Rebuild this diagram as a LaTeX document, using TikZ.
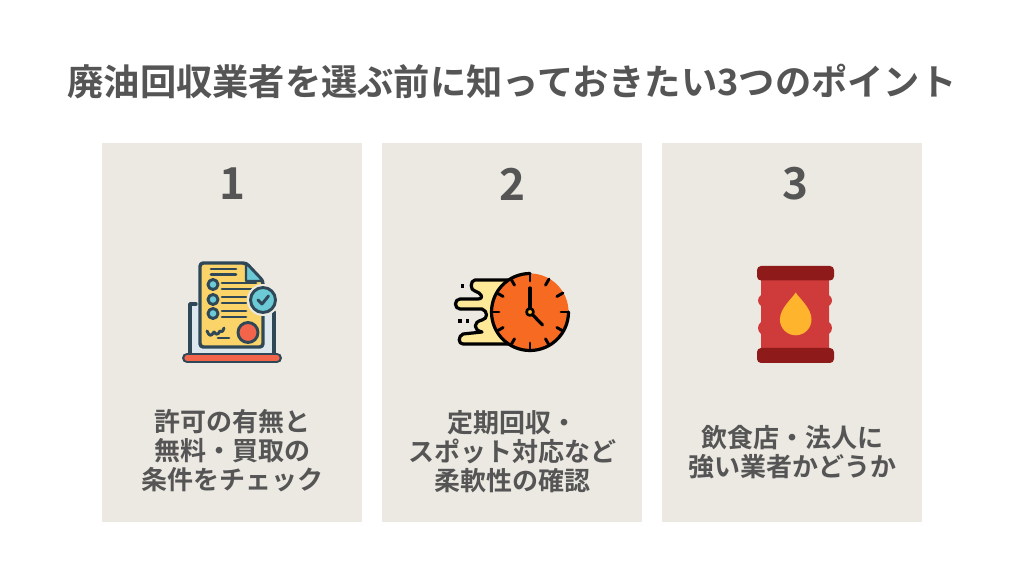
\documentclass[tikz,border=0pt]{standalone}
\usetikzlibrary{calc}
\usepackage{fontspec}
\setmainfont{Noto Sans CJK JP Bold}
\definecolor{ink}{HTML}{555555}
\definecolor{panel}{HTML}{ECE9E2}
\definecolor{line}{HTML}{2F4858}
\definecolor{paper}{HTML}{FBD469}
\definecolor{sky}{HTML}{6CC9D6}
\definecolor{pale}{HTML}{DDE8EE}
\definecolor{coral}{HTML}{F2654A}
\definecolor{orange}{HTML}{F76A21}
\definecolor{cream}{HTML}{FEE998}
\definecolor{barrel}{HTML}{CF3B3B}
\definecolor{dark}{HTML}{8F1A1A}
\definecolor{oil}{HTML}{FFB42D}
\tikzset{
 cardbox/.style={fill=panel,draw=none,minimum width=195pt,minimum height=284.25pt,inner sep=0pt},
 titletext/.style={text=ink,font=\fontsize{27.2pt}{32pt}\selectfont,inner sep=0pt},
 numtext/.style={text=ink,font=\fontsize{33pt}{38pt}\selectfont,inner sep=0pt},
 bodytext/.style={text=ink,font=\fontsize{19.5pt}{21.8pt}\selectfont,align=center,inner sep=0pt},
 ol/.style={draw=line,line width=2.6pt,line cap=round,line join=round},
 bk/.style={draw=black,line width=2.4pt,line cap=round,line join=round}
}
\begin{document}
\begin{tikzpicture}[x=0.75pt,y=-0.75pt]
\useasboundingbox (0,0) rectangle (1024,580);
\fill[white] (0,0) rectangle (1024,580);
\node[titletext] (title) at (512,82) {廃油回収業者を選ぶ前に知っておきたい3つのポイント};
\node[cardbox] (c1) at (232,332.5) {};
\node[cardbox] (c2) at (512,332.5) {};
\node[cardbox] (c3) at (792,332.5) {};
\node[numtext] (n1) at (232,184) {1};
\node[numtext] (n2) at (512,184) {2};
\node[numtext] (n3) at (795,184) {3};
\node[bodytext] (t1) at (232,451) {許可の有無と\\無料・買取の\\条件をチェック};
\node[bodytext] (t2) at (512,452) {定期回収・\\スポット対応など\\柔軟性の確認};
\node[bodytext] (t3) at (792,452) {飲食店・法人に\\強い業者かどうか};
% icon 1
\fill[pale] (190,304) rectangle (274,353);
\draw[ol] (196,304) -- (190,304) -- (190,354);
\draw[ol] (274,312) -- (274,354);
\draw[ol,fill=paper,rounded corners=2.5pt] (200,263) -- (246,263) -- (263,281) -- (263,347) -- (200,347) -- cycle;
\draw[ol,fill=sky,line width=1.8pt] (246,263) -- (246,281) -- (263,281) -- cycle;
\foreach \y in {269,274.5}{\draw[ol,line width=2.2pt] (211,\y) -- (236,\y);}
\foreach \y in {283,289}{\draw[ol,line width=2.2pt] (222,\y) -- (256,\y);}
\foreach \y in {297,303,311,317}{\draw[ol,line width=2.2pt] (222,\y) -- (246,\y);}
\foreach \y in {284.5,299.5,313.5}{\draw[ol,fill=sky,line width=2.2pt] (213,\y) circle (5);}
\draw[ol,line width=2.2pt] (207,331) .. controls (209,336) and (211,337) .. (214,332) .. controls (216,335) and (218,335) .. (220,331) .. controls (222,333) and (224,330) .. (224,328);
\draw[ol,line width=2.2pt] (218,338) -- (229,338);
\draw[ol,fill=coral,line width=2.2pt] (248,332.5) circle (10);
\fill[panel] (263,300) circle (16);
\draw[ol,fill=sky,line width=2.2pt] (263,300) circle (12.5);
\draw[ol,line width=2.2pt] (258,300) -- (262,304) -- (268.5,296);
\draw[draw=line,line width=7.5pt,line cap=round] (187,358) -- (277,358);
\draw[draw=coral,line width=3.8pt,line cap=round] (187,358) -- (277,358);
% icon 2
\path[fill=cream] (508,280) -- (475,280) .. controls (470,280) and (470,291) .. (475,291) -- (479,293) .. controls (483,296) and (482,299) .. (478,299) -- (460,299) .. controls (454,299) and (454,309) .. (460,309) -- (482,309) .. controls (488,311) and (488,319) .. (482,320) .. controls (473,322) and (473,330) .. (482,332) -- (463,334) .. controls (458,336) and (458,344) .. (463,344) -- (508,344) -- cycle;
\draw[bk] (508,280) -- (475,280) .. controls (470,280) and (470,291) .. (475,291) -- (479,293) .. controls (483,296) and (482,299) .. (478,299) -- (460,299) .. controls (454,299) and (454,309) .. (460,309) -- (482,309) .. controls (488,311) and (488,319) .. (482,320) .. controls (473,322) and (473,330) .. (482,332) -- (463,334) .. controls (458,336) and (458,344) .. (463,344) -- (508,344);
\fill[black] (460.5,284) rectangle (464,288);
\fill[black] (458,319) rectangle (461.5,323);
\fill[black] (465.5,319) rectangle (469,323);
\fill[orange] (530,312) circle (38.5);
\draw[bk] (530,273.5) arc[start angle=270,end angle=0,radius=38.5];
\foreach \a in {0,30,...,330}{\draw[bk,line width=2.2pt] ($(530,312)+(\a:38)$) -- ($(530,312)+(\a:31)$);}
\draw[bk] (530,312) -- (530,288);
\draw[bk] (530,312) -- (542.5,325);
\draw[bk,fill=oil,line width=2pt] (530,312) circle (3.5);
% icon 3
\fill[barrel] (761,279) -- (829,279) -- (829,295) .. controls (833,298) and (833,303) .. (829,306) -- (829,322) .. controls (833,325) and (833,331) .. (829,334) -- (829,349) -- (761,349) -- (761,334) .. controls (757,331) and (757,325) .. (761,322) -- (761,306) .. controls (757,303) and (757,298) .. (761,295) -- cycle;
\fill[dark,rounded corners=3pt] (757,266) rectangle (834,280.5);
\fill[dark,rounded corners=3pt] (757,348) rectangle (834,363);
\fill[oil] (795.7,292.5) .. controls (799,298) and (811.5,308) .. (811.5,319.5) arc[start angle=0,end angle=180,radius=15.8] .. controls (780,308) and (792.5,298) .. cycle;
\end{tikzpicture}
\end{document}
